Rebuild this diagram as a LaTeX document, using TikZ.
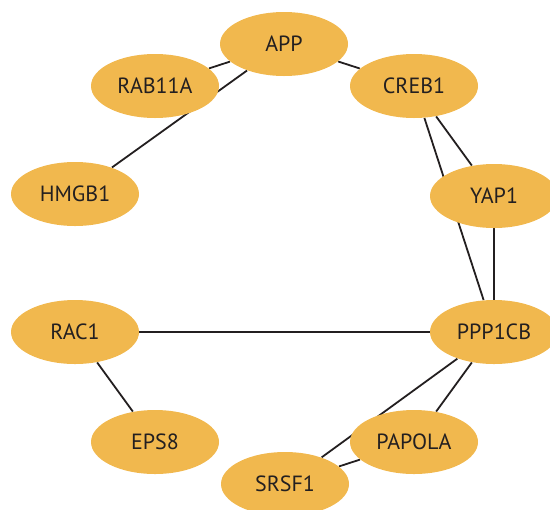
\documentclass[tikz,border=0pt]{standalone}
\usepackage{fontspec}
\setmainfont{PT Sans}
\usetikzlibrary{shapes.geometric, backgrounds}

\definecolor{genefill}{RGB}{241,184,78}
\definecolor{genetext}{RGB}{35,31,32}

\begin{document}
\begin{tikzpicture}[
    x=0.5pt, y=-0.5pt,      % 1 単位 = 元画像の 1 px
    gene/.style={ellipse, fill=genefill, minimum width=64pt, minimum height=32pt,
                 inner sep=0pt, text=genetext, font=\fontsize{11}{13}\selectfont},
    link/.style={line width=0.9pt, draw=genetext}
]
    \useasboundingbox (0,0) rectangle (550,509);

    % --- 1. ノード（遺伝子）の配置 ---
    \node [gene] (app)    at (284, 44)  {APP};
    \node [gene] (rab11a) at (155, 86)  {RAB11A};
    \node [gene] (creb1)  at (414, 86)  {CREB1};
    \node [gene] (hmgb1)  at (75, 194)  {HMGB1};
    \node [gene] (yap1)   at (494, 196) {YAP1};
    \node [gene] (rac1)   at (75, 332)  {RAC1};
    \node [gene] (ppp1cb) at (494, 332) {PPP1CB};
    \node [gene] (eps8)   at (155, 442) {EPS8};
    \node [gene] (papola) at (414, 442) {PAPOLA};
    \node [gene] (srsf1)  at (285, 484) {SRSF1};

    % --- 2. 相互作用の線（ノードの後ろに描く） ---
    \begin{scope}[on background layer]
        \draw [link] (app) -- (rab11a);
        \draw [link] (app) -- (hmgb1);
        \draw [link] (app) -- (creb1);
        \draw [link] (creb1) -- (yap1);
        \draw [link] (creb1) -- (ppp1cb);
        \draw [link] (yap1) -- (ppp1cb);
        \draw [link] (rac1) -- (ppp1cb);
        \draw [link] (rac1) -- (eps8);
        \draw [link] (ppp1cb) -- (papola);
        \draw [link] (ppp1cb) -- (srsf1);
        \draw [link] (papola) -- (srsf1);
    \end{scope}

\end{tikzpicture}
\end{document}
